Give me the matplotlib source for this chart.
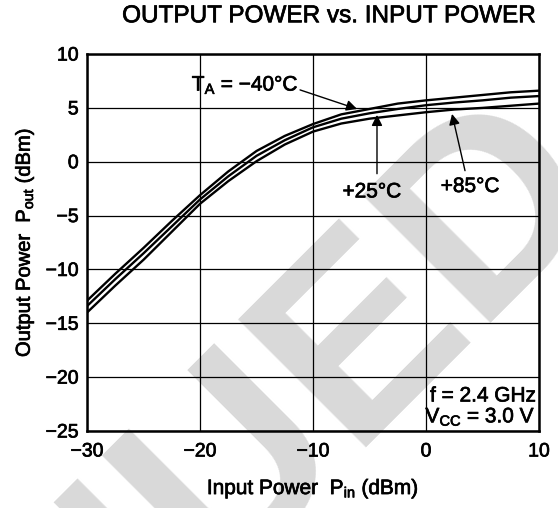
import numpy as np
import matplotlib
import matplotlib.pyplot as plt
import matplotlib.patheffects as pe
from matplotlib.text import Text

matplotlib.rc('font', family=['Liberation Sans', 'DejaVu Sans'])
matplotlib.rcParams['mathtext.default'] = 'regular'

# input power sweep (dBm) and output power for each ambient temperature (dBm)
pin = [-30, -27.5, -25, -22.5, -20, -17.5, -15, -12.5, -10, -7.5, -5, -2.5, 0, 2.5, 5, 7.5, 10]
pout_m40 = [-12.9, -10.4, -8.0, -5.5, -3.1, -0.9, 1.0, 2.4, 3.5, 4.4, 4.9, 5.4, 5.7, 5.95, 6.2, 6.45, 6.6]
pout_25 = [-13.4, -10.9, -8.5, -6.0, -3.5, -1.35, 0.55, 2.0, 3.2, 4.0, 4.5, 4.9, 5.25, 5.5, 5.7, 5.95, 6.1]
pout_85 = [-14.0, -11.5, -9.1, -6.5, -3.9, -1.8, 0.05, 1.6, 2.8, 3.55, 4.0, 4.3, 4.6, 4.85, 5.0, 5.2, 5.4]

xticks = [-30, -20, -10, 0, 10]
yticks = [10, 5, 0, -5, -10, -15, -20, -25]

fig = plt.figure(figsize=(5.58, 5.08), dpi=100)
fig.patch.set_facecolor('white')
ax = fig.add_axes([0.156, 0.1516, 0.810, 0.742])
ax.set_facecolor('none')

# grey stamp across the sheet
stamp = fig.text(1.09, 0.63, 'DISCONTINUED', color='#d9d9d9', fontsize=190, fontweight='bold',
                 rotation=45, rotation_mode='anchor', ha='right', va='baseline', zorder=-1)

for series in (pout_m40, pout_25, pout_85):
  ax.plot(pin, series, color='black', lw=1.7, solid_capstyle='butt', zorder=3)

ax.set_xlim(-30, 10)
ax.set_ylim(-25, 10)
ax.set_xticks(xticks)
ax.set_yticks(yticks)
ax.grid(True, color='black', lw=0.9)
ax.set_axisbelow(True)
ax.tick_params(length=0, labelsize=14)
ax.tick_params(axis='x', pad=9)
ax.tick_params(axis='y', pad=6)
for s in ax.spines.values():
  s.set_linewidth(1.8)

ax.set_xlabel('Input Power  $P_{in}$ (dBm)', fontsize=15, labelpad=12)
ax.set_ylabel('Output Power  $P_{out}$ (dBm)', fontsize=14.5, labelpad=7)
fig.text(0.588, 0.968, 'OUTPUT POWER vs. INPUT POWER', fontsize=17.5, ha='center', va='center')

arrow = dict(arrowstyle='-|>', color='black', lw=1.0, mutation_scale=16, shrinkA=0, shrinkB=0)
ax.annotate('', xy=(-6.1, 4.9), xytext=(-11.15, 6.67), arrowprops=arrow)
ax.annotate('', xy=(-4.34, 4.35), xytext=(-4.34, -1.11), arrowprops=arrow)
ax.annotate('', xy=(2.3, 4.44), xytext=(3.45, -0.83), arrowprops=arrow)
ax.text(-16.0, 7.2, '$T_A$ = \u221240\u00b0C', fontsize=15, ha='center', va='center')
ax.text(-4.8, -2.8, '+25\u00b0C', fontsize=15, ha='center', va='center')
ax.text(3.9, -2.3, '+85\u00b0C', fontsize=15, ha='center', va='center')
ax.text(9.7, -21.75, 'f = 2.4 GHz', fontsize=15, ha='right', va='center')
ax.text(9.7, -23.7, '$V_{CC}$ = 3.0 V', fontsize=15, ha='right', va='center')

# heavier strokes on the lettering
for t in fig.findobj(Text):
  if t is not stamp:
    t.set_path_effects([pe.withStroke(linewidth=0.5, foreground='black')])

fig.savefig('out.png', dpi=100)
